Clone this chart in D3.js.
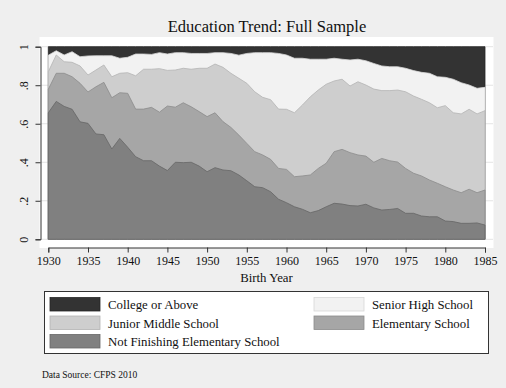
<!DOCTYPE html>
<html>
<head>
<meta charset="utf-8">
<script src="https://cdn.jsdelivr.net/npm/d3@7"></script>
<style>
  body { margin: 0; background: #efefef; }
  text { font-family: "Liberation Serif", "Times New Roman", serif; fill: #111; }
</style>
</head>
<body>
<div id="chart"></div>
<script>
// Birth years 1930..1985
const years = d3.range(1930, 1986);

// Cumulative shares (upper edge of each band)
const cumNotFinishing = [
  .657, .716, .69, .675, .61, .602, .547, .543, .469, .524,
  .478, .429, .408, .408, .38, .357, .40, .398, .40, .38,
  .351, .372, .36, .356, .334, .304, .273, .268, .247, .208,
  .19, .169, .156, .138, .149, .169, .187, .183, .175, .173,
  .182, .163, .152, .155, .16, .135, .135, .121, .117, .117,
  .095, .092, .083, .083, .085, .074
];
const cumElementary = [
  .779, .862, .862, .844, .81, .765, .792, .815, .735, .761,
  .758, .676, .676, .685, .66, .692, .686, .709, .688, .663,
  .637, .657, .611, .581, .541, .498, .455, .438, .415, .368,
  .363, .325, .329, .334, .368, .395, .455, .467, .45, .438,
  .432, .40, .42, .408, .401, .368, .343, .329, .308, .291,
  .273, .256, .242, .26, .242, .256
];
const cumJunior = [
  .87, .957, .922, .919, .90, .853, .879, .905, .844, .862,
  .865, .849, .883, .883, .886, .877, .879, .888, .883, .888,
  .888, .91, .893, .862, .836, .81, .766, .737, .725, .676,
  .675, .657, .697, .74, .775, .805, .822, .831, .796, .818,
  .801, .78, .772, .772, .775, .766, .744, .727, .709, .683,
  .694, .657, .651, .675, .651, .668
];
const cumSenior = [
  .956, .979, .957, .974, .948, .952, .953, .953, .953, .94,
  .945, .962, .962, .96, .969, .962, .969, .969, .965, .965,
  .965, .969, .969, .965, .956, .965, .969, .969, .969, .965,
  .957, .94, .94, .935, .935, .935, .94, .935, .931, .935,
  .927, .913, .90, .896, .896, .888, .876, .867, .862, .844,
  .841, .831, .813, .801, .784, .789
];
const cumCollege = years.map(() => 1);

const xTicks = d3.range(1930, 1986, 5);
const yTicks = [0, .2, .4, .6, .8, 1];

// bands drawn back to front (largest cumulative first)
const bands = [
  { name: "College or Above", values: cumCollege, fill: "#333333", stroke: "#262626" },
  { name: "Senior High School", values: cumSenior, fill: "#f2f2f2", stroke: "#d8d8d8" },
  { name: "Junior Middle School", values: cumJunior, fill: "#cecece", stroke: "#b4b4b4" },
  { name: "Elementary School", values: cumElementary, fill: "#a6a6a6", stroke: "#8c8c8c" },
  { name: "Not Finishing Elementary School", values: cumNotFinishing, fill: "#808080", stroke: "#666666" }
];
const legendOrder = ["College or Above", "Senior High School", "Junior Middle School",
  "Elementary School", "Not Finishing Elementary School"];

const width = 506, height = 388;

const svg = d3.select("#chart").append("svg")
  .attr("width", width)
  .attr("height", height);

svg.append("rect")
  .attr("width", width).attr("height", height)
  .attr("fill", "#efefef");

// plot region
svg.append("rect")
  .attr("x", 39.5).attr("y", 37)
  .attr("width", 454).attr("height", 211)
  .attr("fill", "#fff");

const x = d3.scaleLinear().domain([1930, 1985]).range([48.3, 485]);
const y = d3.scaleLinear().domain([0, 1]).range([239.3, 46.7]);

// grid
svg.append("g").selectAll("line")
  .data(yTicks)
  .join("line")
  .attr("x1", 40.5).attr("x2", 493)
  .attr("y1", d => y(d)).attr("y2", d => y(d))
  .attr("stroke", "#e4e4e4")
  .attr("stroke-width", 1);

const area = d3.area()
  .x((d, i) => x(years[i]))
  .y0(y(0))
  .y1(d => y(d));

svg.append("g").selectAll("path")
  .data(bands)
  .join("path")
  .attr("d", d => area(d.values))
  .attr("fill", d => d.fill)
  .attr("stroke", d => d.stroke)
  .attr("stroke-width", 0.8);

// title
svg.append("text")
  .attr("x", 267).attr("y", 31.5)
  .attr("text-anchor", "middle")
  .attr("font-size", 16.5)
  .text("Education Trend: Full Sample");

// axes
const xAxis = d3.axisBottom(x)
  .tickValues(xTicks)
  .tickFormat(d3.format("d"))
  .tickSizeOuter(0)
  .tickSize(5)
  .tickPadding(4);

const xAxisGroup = svg.append("g")
  .attr("transform", `translate(0, 247.5)`)
  .call(xAxis);
xAxisGroup.select(".domain").attr("stroke", "#333");
xAxisGroup.selectAll(".tick line").attr("stroke", "#333");
xAxisGroup.selectAll("text")
  .attr("font-size", 12)
  .attr("font-family", "Liberation Serif, serif")
  .attr("fill", "#111");

svg.append("text")
  .attr("x", 266.5).attr("y", 281.5)
  .attr("text-anchor", "middle")
  .attr("font-size", 12.8)
  .text("Birth Year");

const yAxis = d3.axisLeft(y)
  .tickValues(yTicks)
  .tickFormat(d => d === 0 ? "0" : d === 1 ? "1" : d3.format(".1f")(d).replace(/^0/, ""))
  .tickSizeOuter(0)
  .tickSize(5);

const yAxisGroup = svg.append("g")
  .attr("transform", `translate(40.5, 0)`)
  .call(yAxis);
yAxisGroup.select(".domain").attr("stroke", "#333");
yAxisGroup.selectAll(".tick line").attr("stroke", "#333");
yAxisGroup.selectAll("text")
  .attr("x", null).attr("dy", null)
  .attr("transform", "translate(-13, 0) rotate(-90)")
  .attr("text-anchor", "middle")
  .attr("font-size", 12)
  .attr("font-family", "Liberation Serif, serif")
  .attr("fill", "#111");

// legend
const legend = svg.append("g");
legend.append("rect")
  .attr("x", 44.5).attr("y", 291.5)
  .attr("width", 444).attr("height", 62)
  .attr("fill", "#fff")
  .attr("stroke", "#333")
  .attr("stroke-width", 1);

const colX = [50, 314];
const rowY = [297.5, 316, 334.5];
const items = legend.selectAll("g.item")
  .data(legendOrder.map(n => bands.find(b => b.name === n)))
  .join("g")
  .attr("class", "item")
  .attr("transform", (d, i) => `translate(${colX[i % 2]}, ${rowY[Math.floor(i / 2)]})`);

items.append("rect")
  .attr("width", 50).attr("height", 13.5)
  .attr("fill", d => d.fill)
  .attr("stroke", d => d.stroke)
  .attr("stroke-width", 0.8);

items.append("text")
  .attr("x", 58).attr("y", 11.5)
  .attr("font-size", 12.8)
  .text(d => d.name);

svg.append("text")
  .attr("x", 42).attr("y", 378)
  .attr("font-size", 9.5)
  .text("Data Source: CFPS 2010");
</script>
</body>
</html>
